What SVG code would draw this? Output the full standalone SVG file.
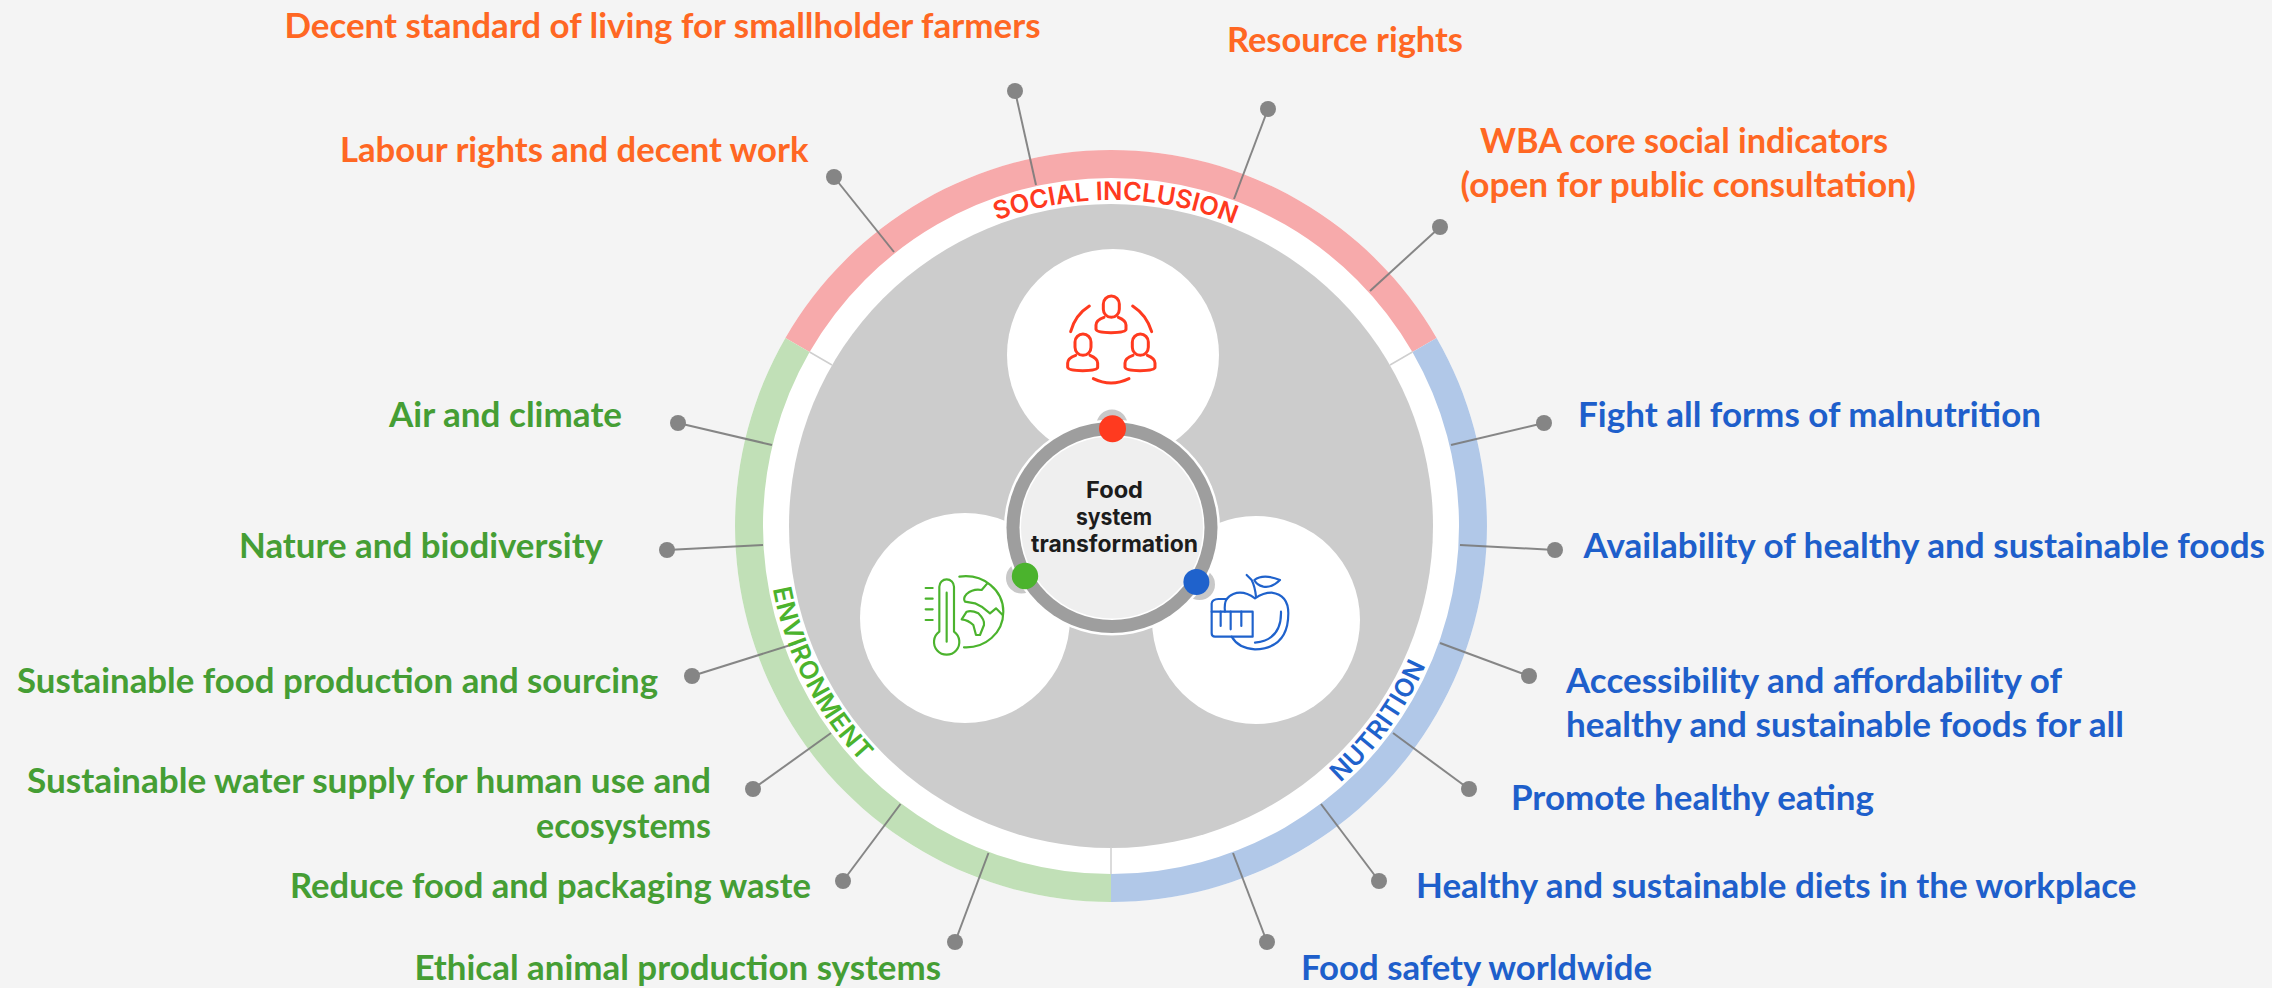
<svg xmlns="http://www.w3.org/2000/svg" width="2272" height="988" viewBox="0 0 2272 988">
<style>
.lb{font-family:"Lato","Noto Sans","Liberation Sans",sans-serif;font-weight:700;font-size:34px}
.o{fill:#FF6723}.g{fill:#459E34}.b{fill:#1E5FCB}
.arc{font-family:"Inter","Open Sans","Liberation Sans",sans-serif;font-weight:600;font-size:25.5px}
.ctr{font-family:"Inter","Open Sans","Liberation Sans",sans-serif;font-weight:700;font-size:22.5px;fill:#1C1C1C;text-anchor:middle}
.pin{fill:#858585}
.cn{stroke:#7A7A7A;stroke-width:2;fill:none;opacity:.9}
.ic{fill:none;stroke-linecap:round;stroke-linejoin:round}
</style>
<defs>
<path id="pS" d="M828.7 363A326 326 0 0 1 1393.3 363"/>
<path id="pE" d="M767 526A344 344 0 0 0 909 804"/>
<path id="pN" d="M1283 824A344 344 0 0 0 1447.5 597.5"/>
<g id="person"><rect x="220" y="48" width="48" height="64" rx="24"/><path d="M222 112C205 118 198 125 198 135V148Q200 158 243 158Q288 158 288 148V135C288 125 280 118 265 112"/></g>
</defs>
<rect width="2272" height="988" fill="#F4F4F4"/>

<g id="wheel">
<circle cx="1111" cy="526" r="376" fill="#fff"/>
<path d="M785.4 338A376 376 0 0 1 1436.6 338L1412.4 352A348 348 0 0 0 809.6 352Z" fill="#F7AAAB"/>
<path d="M1436.6 338A376 376 0 0 1 1111 902V874A348 348 0 0 0 1412.4 352Z" fill="#B1C8E8"/>
<path d="M1111 902A376 376 0 0 1 785.4 338L809.6 352A348 348 0 0 0 1111 874Z" fill="#C1E0B7"/>
<circle cx="1111" cy="526" r="322" fill="#CCCCCC"/>
<path d="M809.6 352L832 365M1412.4 352L1390 365M1111 847V874" stroke="#CFCFCF" stroke-width="1.5" fill="none"/>
</g>

<g id="connectors">
<path class="cn" d="M1015 91L1036 185"/>
<path class="cn" d="M1268 109L1234 199"/>
<path class="cn" d="M834 177L894 252"/>
<path class="cn" d="M1440 227L1370 291"/>
<path class="cn" d="M678 423L772 445"/>
<path class="cn" d="M667 550L763 545"/>
<path class="cn" d="M692 676L797 643"/>
<path class="cn" d="M753 789L831 733"/>
<path class="cn" d="M843 881L900.5 804"/>
<path class="cn" d="M955 942L988.5 853"/>
<path class="cn" d="M1544 423L1451 445"/>
<path class="cn" d="M1555 550L1460 545"/>
<path class="cn" d="M1529 676L1440 643"/>
<path class="cn" d="M1469 789L1393 733"/>
<path class="cn" d="M1379 881L1321 804"/>
<path class="cn" d="M1267 942L1233 853"/>
</g>

<g id="arc-labels">
<text class="arc" fill="#FF3A1F"><textPath href="#pS" startOffset="50.7%" text-anchor="middle">SOCIAL INCLUSION</textPath></text>
<text class="arc" fill="#4BB32D" letter-spacing=".6"><textPath href="#pE" startOffset="50%" text-anchor="middle">ENVIRONMENT</textPath></text>
<text class="arc" fill="#1F62CC" letter-spacing=".6"><textPath href="#pN" startOffset="50%" text-anchor="middle">NUTRITION</textPath></text>
</g>

<g id="social-circle">
<circle cx="1113" cy="355" r="106" fill="#fff"/>
<g transform="translate(1030 280) scale(.3333)" class="ic" stroke="#FF3A1F" stroke-width="9">
<use href="#person"/><use href="#person" x="-85" y="114"/><use href="#person" x="87" y="114"/>
<path d="M122 155Q135 105 178 78M365 155Q350 105 308 78M190 296Q243 322 297 296"/>
</g>
</g>
<g id="environment-circle">
<circle cx="965" cy="618" r="105" fill="#fff"/>
<g transform="translate(910 570) scale(.3333)" class="ic" stroke="#4BB32D" stroke-width="6.5">
<path d="M88 185V50A22 22 0 0 1 132 50V185A38 38 0 1 1 88 185Z"/>
<path d="M110 68V215M47 54H68M47 86H68M47 118H68M47 150H68"/>
<path d="M148 20C220 10 280 60 280 125C280 190 225 235 162 232"/>
<path d="M232 40L215 60Q190 55 170 72Q158 85 165 95L195 100L215 110L240 130L258 115L278 135"/>
<path d="M155 148L170 125Q185 120 205 130Q225 150 222 165L210 195L198 195L190 165Q175 150 155 148Z"/>
</g>
</g>
<g id="nutrition-circle">
<circle cx="1256" cy="620" r="104" fill="#fff"/>
<g transform="translate(1200 570) scale(.3333)" class="ic" stroke="#1F62CC" stroke-width="6.5">
<path d="M95 200Q115 235 165 238Q265 235 265 130Q265 75 215 68Q190 68 165 85Q130 60 100 72Q85 78 78 90"/>
<path d="M35 125H158V200H45Q35 200 35 190Z"/>
<path d="M62 125V168M92 125V178M124 125V168"/>
<path d="M35 125V100Q37 88 55 87H80Q72 100 75 125"/>
<path d="M140 15L155 30Q165 50 168 80"/>
<path d="M163 30Q190 10 240 30Q215 55 190 50Q170 45 163 30Z"/>
<path d="M243 125Q245 210 165 218"/>
</g>
</g>

<g id="center">
<circle cx="1112" cy="425" r="15.5" fill="#C8C8C8"/>
<circle cx="1021.5" cy="578" r="15.5" fill="#C8C8C8"/>
<circle cx="1199.5" cy="584.5" r="15.5" fill="#C8C8C8"/>
<circle cx="1112" cy="527.5" r="108" fill="#fff"/>
<circle cx="1112" cy="527.5" r="105.5" fill="#9E9E9E"/>
<circle cx="1112" cy="527.5" r="92.5" fill="#fff"/>
<circle cx="1112" cy="527.5" r="91" fill="#EFEFEF"/>
<text class="ctr" x="1114.5" y="498" textLength="57" lengthAdjust="spacingAndGlyphs">Food</text>
<text class="ctr" x="1114" y="525" textLength="76" lengthAdjust="spacingAndGlyphs">system</text>
<text class="ctr" x="1114.5" y="552" textLength="167" lengthAdjust="spacingAndGlyphs">transformation</text>
<circle cx="1112.5" cy="428.7" r="13.5" fill="#FF3A1F"/>
<circle cx="1025" cy="576" r="13.2" fill="#4BB32D"/>
<circle cx="1196.4" cy="582" r="13" fill="#1F62CC"/>
</g>

<g id="n-decent"><circle class="pin" cx="1015" cy="91" r="8"/><text class="lb o" x="284.5" y="38" textLength="756" lengthAdjust="spacingAndGlyphs">Decent standard of living for smallholder farmers</text></g>
<g id="n-labour"><circle class="pin" cx="834" cy="177" r="8"/><text class="lb o" x="340" y="162" textLength="468.5" lengthAdjust="spacingAndGlyphs">Labour rights and decent work</text></g>
<g id="n-resource"><circle class="pin" cx="1268" cy="109" r="8"/><text class="lb o" x="1227" y="52" textLength="236" lengthAdjust="spacingAndGlyphs">Resource rights</text></g>
<g id="n-wba"><circle class="pin" cx="1440" cy="227" r="8"/><text class="lb o" x="1480" y="153" textLength="408" lengthAdjust="spacingAndGlyphs">WBA core social indicators</text><text class="lb o" x="1460.6" y="197" textLength="455.4" lengthAdjust="spacingAndGlyphs">(open for public consultation)</text></g>
<g id="n-air"><circle class="pin" cx="678" cy="423" r="8"/><text class="lb g" x="389" y="427" textLength="233" lengthAdjust="spacingAndGlyphs">Air and climate</text></g>
<g id="n-nature"><circle class="pin" cx="667" cy="550" r="8"/><text class="lb g" x="239" y="558" textLength="364" lengthAdjust="spacingAndGlyphs">Nature and biodiversity</text></g>
<g id="n-production"><circle class="pin" cx="692" cy="676" r="8"/><text class="lb g" x="17" y="693" textLength="641" lengthAdjust="spacingAndGlyphs">Sustainable food production and sourcing</text></g>
<g id="n-water"><circle class="pin" cx="753" cy="789" r="8"/><text class="lb g" x="27" y="793" textLength="684" lengthAdjust="spacingAndGlyphs">Sustainable water supply for human use and</text><text class="lb g" x="536" y="838" textLength="175" lengthAdjust="spacingAndGlyphs">ecosystems</text></g>
<g id="n-waste"><circle class="pin" cx="843" cy="881" r="8"/><text class="lb g" x="290" y="898" textLength="521" lengthAdjust="spacingAndGlyphs">Reduce food and packaging waste</text></g>
<g id="n-animal"><circle class="pin" cx="955" cy="942" r="8"/><text class="lb g" x="414.5" y="980" textLength="526.5" lengthAdjust="spacingAndGlyphs">Ethical animal production systems</text></g>
<g id="n-malnutrition"><circle class="pin" cx="1544" cy="423" r="8"/><text class="lb b" x="1578" y="427" textLength="463" lengthAdjust="spacingAndGlyphs">Fight all forms of malnutrition</text></g>
<g id="n-availability"><circle class="pin" cx="1555" cy="550" r="8"/><text class="lb b" x="1583.5" y="558" textLength="681.5" lengthAdjust="spacingAndGlyphs">Availability of healthy and sustainable foods</text></g>
<g id="n-accessibility"><circle class="pin" cx="1529" cy="676" r="8"/><text class="lb b" x="1566" y="693" textLength="496" lengthAdjust="spacingAndGlyphs">Accessibility and affordability of</text><text class="lb b" x="1566" y="737" textLength="558" lengthAdjust="spacingAndGlyphs">healthy and sustainable foods for all</text></g>
<g id="n-promote"><circle class="pin" cx="1469" cy="789" r="8"/><text class="lb b" x="1511" y="810" textLength="363" lengthAdjust="spacingAndGlyphs">Promote healthy eating</text></g>
<g id="n-workplace"><circle class="pin" cx="1379" cy="881" r="8"/><text class="lb b" x="1416" y="898" textLength="720.5" lengthAdjust="spacingAndGlyphs">Healthy and sustainable diets in the workplace</text></g>
<g id="n-safety"><circle class="pin" cx="1267" cy="942" r="8"/><text class="lb b" x="1301" y="980" textLength="351" lengthAdjust="spacingAndGlyphs">Food safety worldwide</text></g>
</svg>
